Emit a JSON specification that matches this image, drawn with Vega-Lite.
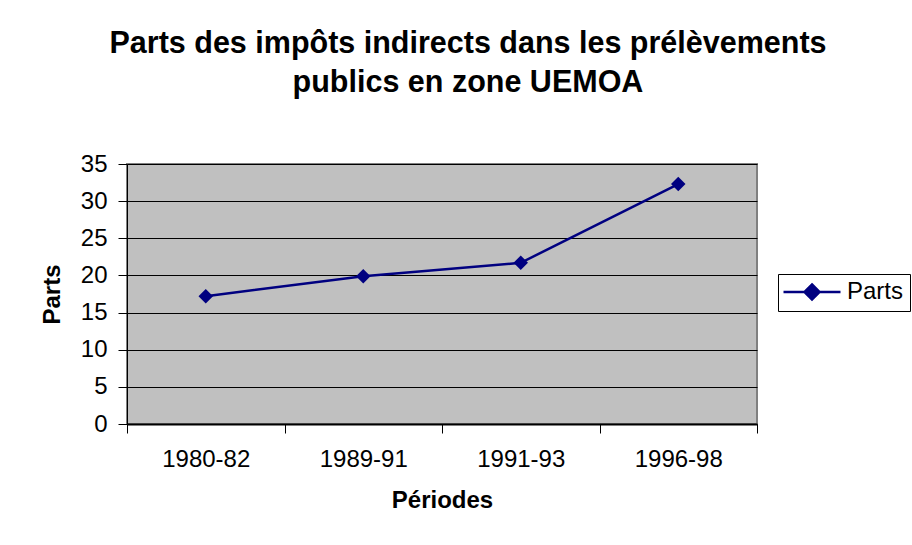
{
  "$schema": "https://vega.github.io/schema/vega-lite/v6.json",
  "autosize": "none",
  "width": 630,
  "height": 260,
  "padding": {"left": 127, "top": 164, "right": 155, "bottom": 121},
  "background": "white",
  "title": {
    "text": ["Parts des impôts indirects dans les prélèvements", "publics en zone UEMOA"],
    "font": "Liberation Sans",
    "fontSize": 30.5,
    "fontWeight": "bold",
    "color": "black",
    "lineHeight": 39,
    "anchor": "middle",
    "dx": 26,
    "offset": 54
  },
  "data": {
    "values": [
      {"periode": "1980-82", "parts": 17.2, "serie": "Parts"},
      {"periode": "1989-91", "parts": 19.9, "serie": "Parts"},
      {"periode": "1991-93", "parts": 21.7, "serie": "Parts"},
      {"periode": "1996-98", "parts": 32.3, "serie": "Parts"}
    ]
  },
  "mark": {
    "type": "line",
    "strokeWidth": 2.5,
    "point": {"shape": "diamond", "size": 210, "filled": true, "color": "#000080"}
  },
  "encoding": {
    "x": {
      "field": "periode",
      "type": "ordinal",
      "sort": null,
      "title": "Périodes",
      "scale": {"type": "band", "paddingInner": 0, "paddingOuter": 0},
      "axis": {
        "tickBand": "extent",
        "labelAngle": 0,
        "labelFont": "Liberation Sans",
        "labelFontSize": 24,
        "labelColor": "black",
        "labelPadding": 14,
        "tickSize": 9,
        "tickColor": "black",
        "domainColor": "black",
        "domainWidth": 2,
        "titleFont": "Liberation Sans",
        "titleFontSize": 24,
        "titleFontWeight": "bold",
        "titleColor": "black",
        "titlePadding": 17,
        "grid": false
      }
    },
    "y": {
      "field": "parts",
      "type": "quantitative",
      "title": "Parts",
      "scale": {"domain": [0, 35], "nice": false},
      "axis": {
        "values": [0, 5, 10, 15, 20, 25, 30, 35],
        "labelFont": "Liberation Sans",
        "labelFontSize": 24,
        "labelColor": "black",
        "labelPadding": 11,
        "tickSize": 9,
        "tickColor": "black",
        "domainColor": "black",
        "grid": true,
        "gridColor": "black",
        "gridWidth": 1,
        "titleFont": "Liberation Sans",
        "titleFontSize": 24,
        "titleFontWeight": "bold",
        "titleColor": "black",
        "titlePadding": 16
      }
    },
    "color": {
      "field": "serie",
      "type": "nominal",
      "scale": {"range": ["#000080"]},
      "legend": {
        "title": null,
        "orient": "none",
        "legendX": 651,
        "legendY": 110,
        "padding": 6,
        "strokeColor": "black",
        "fillColor": "white",
        "symbolType": "M-3.8,0H3.8M0,-1L1,0L0,1L-1,0Z",
        "symbolSize": 225,
        "symbolStrokeWidth": 2.5,
        "symbolFillColor": "#000080",
        "symbolStrokeColor": "#000080",
        "symbolOffset": 16,
        "labelOffset": 23,
        "labelFont": "Liberation Sans",
        "labelFontSize": 24,
        "labelColor": "black"
      }
    }
  },
  "config": {
    "view": {"fill": "#C0C0C0", "stroke": "#808080", "strokeWidth": 2}
  }
}
